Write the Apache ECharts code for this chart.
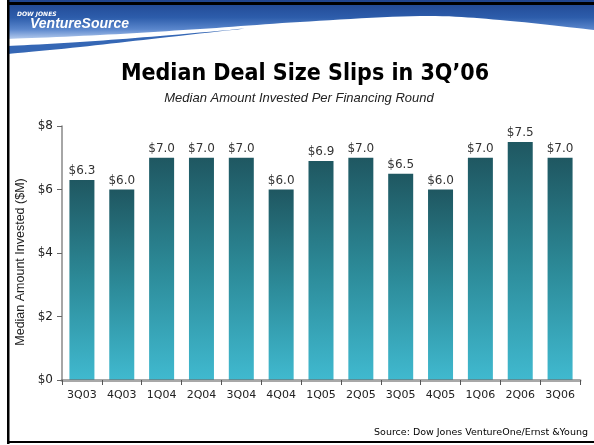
<!DOCTYPE html>
<html><head><meta charset="utf-8">
<script src="https://cdn.jsdelivr.net/npm/echarts@6/dist/echarts.min.js"></script>
<style>html,body{margin:0;padding:0;background:#fff}#c{width:594px;height:445px}</style>
</head><body><div id="c"></div>
<script>
const categories = ['3Q03','4Q03','1Q04','2Q04','3Q04','4Q04','1Q05','2Q05','3Q05','4Q05','1Q06','2Q06','3Q06'];
const values = [6.3, 6.0, 7.0, 7.0, 7.0, 6.0, 6.9, 7.0, 6.5, 6.0, 7.0, 7.5, 7.0];
const yTicks = [0, 2, 4, 6, 8];
const titleText = "Median Deal Size Slips in 3Q\u201906";
const subtitleText = 'Median Amount Invested Per Financing Round';
const yAxisName = 'Median Amount Invested ($M)';
const sourceText = 'Source: Dow Jones VentureOne/Ernst &Young';

const chart = echarts.init(document.getElementById('c'), null, {renderer: 'canvas'});
const sans = '"DejaVu Sans", Verdana, sans-serif';

// Catmull-Rom sampling for decorative header curves
function spline(pts, n) {
  const out = [];
  for (let i = 0; i < pts.length - 1; i++) {
    const p0 = pts[Math.max(0, i - 1)], p1 = pts[i], p2 = pts[i + 1], p3 = pts[Math.min(pts.length - 1, i + 2)];
    for (let k = 0; k < n; k++) {
      const t = k / n, t2 = t * t, t3 = t2 * t;
      const f = (a, b, c, d) => 0.5 * ((2 * b) + (-a + c) * t + (2 * a - 5 * b + 4 * c - d) * t2 + (-a + 3 * b - 3 * c + d) * t3);
      out.push([f(p0[0], p1[0], p2[0], p3[0]), f(p0[1], p1[1], p2[1], p3[1])]);
    }
  }
  out.push(pts[pts.length - 1]);
  return out;
}
const blueEdge = spline([[594,30],[500,20],[420,16],[300,22],[200,29],[100,35],[8,39]], 12);
const stripeTop = spline([[8,46],[80,42],[160,36],[250,28]], 10);
const stripeBot = spline([[250,28],[160,38],[80,47],[8,54]], 10);

const headerBlue = {
  type: 'polygon', z: 1, silent: true,
  shape: { points: [[8,0],[594,0]].concat(blueEdge) },
  style: { fill: new echarts.graphic.LinearGradient(0,0,0,1,[
    {offset:0, color:'#1f4590'},{offset:0.45, color:'#2d5dab'},{offset:0.75, color:'#5a86cc'},{offset:1, color:'#b4cbee'}]) }
};
const headerStripe = {
  type: 'polygon', z: 2, silent: true,
  shape: { points: stripeTop.concat(stripeBot) },
  style: { fill: '#3567b5' }
};

const option = {
  animation: false,
  backgroundColor: '#ffffff',
  grid: { left: 62, right: 14, top: 126, bottom: 65, containLabel: false },
  xAxis: {
    type: 'category', data: categories,
    axisLine: { show: true, lineStyle: { color: 'rgba(110,110,110,0.6)', width: 3 } },
    axisTick: { show: true, alignWithLabel: false, length: 5, lineStyle: { color: '#555', width: 1 } },
    axisLabel: { color: '#222', fontSize: 11, fontFamily: sans, margin: 10 },
    z: 10
  },
  yAxis: {
    type: 'value', min: 0, max: 8, interval: 2,
    name: yAxisName, nameLocation: 'middle', nameGap: 33,
    nameTextStyle: { color: '#222', fontSize: 12.5, fontFamily: 'Arial, "Liberation Sans", sans-serif', padding: [0,0,0,-18] },
    axisLine: { show: true, lineStyle: { color: '#888', width: 1.5 } },
    axisTick: { show: true, length: 5, lineStyle: { color: '#666' } },
    splitLine: { show: false },
    axisLabel: { color: '#222', fontSize: 12, fontFamily: sans, margin: 9,
      formatter: v => yTicks.includes(v) ? '$' + v : '' }
  },
  series: [{
    type: 'bar', data: values, barWidth: 25,
    itemStyle: { color: new echarts.graphic.LinearGradient(0,0,0,1,[
      {offset:0, color:'#1f5761'},{offset:0.5, color:'#2c8a98'},{offset:1, color:'#40b9cf'}]) },
    label: { show: true, position: 'top', distance: 3, color: '#333', fontSize: 12, fontFamily: sans,
      formatter: p => '$' + p.value.toFixed(1) }
  }],
  graphic: [
    headerBlue, headerStripe,
    { type: 'text', z: 5, left: 17, top: 11, style: { text: 'DOW JONES', fill: '#fff', font: 'bold italic 6px ' + sans } },
    { type: 'text', z: 5, left: 30, top: 17, style: { text: 'VentureSource', fill: '#fff', font: 'bold italic 14px Arial, "Liberation Sans", sans-serif',
      shadowColor: 'rgba(0,0,40,0.7)', shadowBlur: 2, shadowOffsetX: 1, shadowOffsetY: 1 } },
    { type: 'rect', z: 6, shape: { x: 7, y: 2, width: 590, height: 3 }, style: { fill: '#000' } },
    { type: 'rect', z: 6, shape: { x: 7, y: 0, width: 2.5, height: 444 }, style: { fill: '#000' } },
    { type: 'rect', z: 6, shape: { x: 7, y: 441, width: 590, height: 2 }, style: { fill: '#000' } },
    { type: 'text', z: 5, x: 305, y: 74, style: { text: titleText, fill: '#000', textAlign: 'center', textVerticalAlign: 'middle',
      font: 'bold 23px "Liberation Sans Narrow", "DejaVu Sans Condensed", "Arial Narrow", sans-serif' } },
    { type: 'text', z: 5, x: 299, y: 98, style: { text: subtitleText, fill: '#222', textAlign: 'center', textVerticalAlign: 'middle',
      font: 'italic 13px Arial, "Liberation Sans", sans-serif' } },
    { type: 'text', z: 5, x: 588, y: 433, style: { text: sourceText, fill: '#000', textAlign: 'right', textVerticalAlign: 'middle',
      font: '9.5px ' + sans } }
  ]
};
chart.setOption(option);
</script></body></html>
